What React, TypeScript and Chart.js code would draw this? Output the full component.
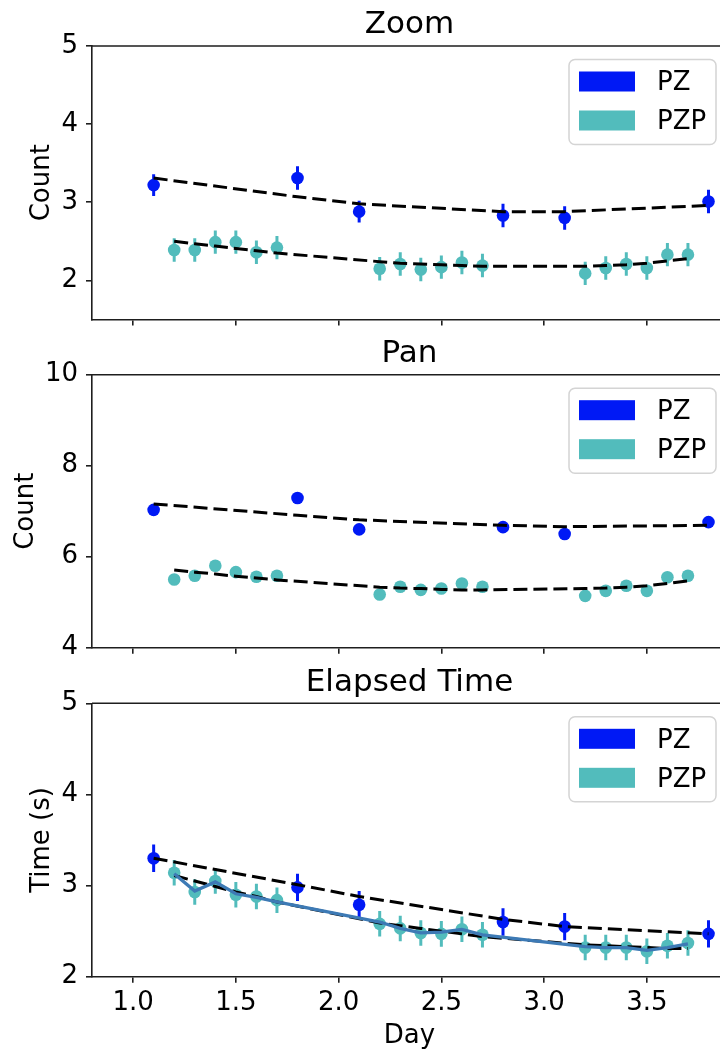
import React, { useEffect, useRef } from 'react';
import { Chart, registerables } from 'chart.js';

Chart.register(...registerables);

// ---------------- data ----------------
const SERIES_LABELS = ['PZ', 'PZP'];
const X_AXIS_LABEL = 'Day';
const X_TICKS = [1.0, 1.5, 2.0, 2.5, 3.0, 3.5];
const X_MIN = 0.8;
const X_MAX = 3.89;

const DAY_PZ = [1.1, 1.8, 2.1, 2.8, 3.1, 3.8];
const DAY_PZP = [1.2, 1.3, 1.4, 1.5, 1.6, 1.7, 2.2, 2.3, 2.4, 2.5, 2.6, 2.7, 3.2, 3.3, 3.4, 3.5, 3.6, 3.7];

// Zoom panel
const ZOOM_Y_TICKS = [2, 3, 4, 5];
const ZOOM_PZ = [3.22, 3.31, 2.88, 2.83, 2.8, 3.01];
const ZOOM_PZ_ERR = [0.14, 0.15, 0.14, 0.15, 0.15, 0.15];
const ZOOM_PZ_FIT = [3.31, 3.07, 2.98, 2.88, 2.88, 2.96];
const ZOOM_PZP = [2.39, 2.39, 2.49, 2.49, 2.36, 2.42, 2.15, 2.21, 2.14, 2.17, 2.23, 2.19, 2.09, 2.16, 2.21, 2.16, 2.33, 2.33];
const ZOOM_PZP_ERR = [0.15, 0.15, 0.15, 0.15, 0.15, 0.15, 0.15, 0.15, 0.15, 0.15, 0.15, 0.15, 0.15, 0.15, 0.15, 0.15, 0.15, 0.15];
const ZOOM_PZP_FIT = [2.5, 2.47, 2.44, 2.41, 2.38, 2.35, 2.24, 2.22, 2.21, 2.2, 2.19, 2.18, 2.18, 2.19, 2.2, 2.22, 2.25, 2.28];

// Pan panel
const PAN_Y_TICKS = [4, 6, 8, 10];
const PAN_PZ = [7.03, 7.29, 6.6, 6.65, 6.5, 6.76];
const PAN_PZ_FIT = [7.16, 6.91, 6.81, 6.69, 6.66, 6.69];
const PAN_PZP = [5.5, 5.58, 5.8, 5.66, 5.56, 5.58, 5.17, 5.34, 5.27, 5.3, 5.41, 5.34, 5.14, 5.25, 5.36, 5.25, 5.55, 5.58];
const PAN_PZP_FIT = [5.71, 5.66, 5.62, 5.57, 5.53, 5.49, 5.33, 5.31, 5.3, 5.28, 5.27, 5.27, 5.3, 5.31, 5.33, 5.36, 5.41, 5.47];

// Elapsed time panel
const TIME_Y_TICKS = [2, 3, 4, 5];
const TIME_PZ = [3.3, 2.98, 2.79, 2.6, 2.55, 2.47];
const TIME_PZ_ERR = [0.15, 0.15, 0.15, 0.15, 0.15, 0.15];
const TIME_PZ_FIT = [3.3, 3.01, 2.88, 2.63, 2.55, 2.47];
const TIME_PZP = [3.14, 2.93, 3.05, 2.9, 2.88, 2.84, 2.58, 2.53, 2.48, 2.47, 2.52, 2.46, 2.32, 2.32, 2.32, 2.28, 2.34, 2.37];
const TIME_PZP_ERR = [0.14, 0.14, 0.14, 0.14, 0.14, 0.14, 0.14, 0.14, 0.14, 0.14, 0.14, 0.14, 0.14, 0.14, 0.14, 0.14, 0.14, 0.14];
const TIME_PZP_LINE = [3.13, 2.94, 3.04, 2.91, 2.87, 2.82, 2.6, 2.53, 2.48, 2.49, 2.52, 2.46, 2.33, 2.32, 2.32, 2.29, 2.32, 2.36];
const TIME_PZP_FIT = [3.11, 3.05, 2.99, 2.93, 2.88, 2.82, 2.59, 2.56, 2.53, 2.5, 2.47, 2.44, 2.35, 2.34, 2.33, 2.32, 2.31, 2.31];

// ---------------- styles ----------------
const FONT = 'DejaVu Sans';
const PZ_COLOR = '#0019f5';
const PZP_COLOR = '#52bcbc';
const MEAN_LINE_COLOR = '#3d7ab5';
const SPINE = '#1e1e1e';

interface PanelSpec {
  title: string;
  yLabel: string;
  yMin: number;
  yMax: number;
  yTicks: number[];
  pz: number[];
  pzErr?: number[];
  pzFit: number[];
  pzp: number[];
  pzpErr?: number[];
  pzpFit: number[];
  pzpLine?: number[];
  showX: boolean;
  top: number;
  height: number;
  titlePadTop: number;
  xAxisHeight: number;
  yTitlePad: number;
}

const PANELS: PanelSpec[] = [
  {
    title: 'Zoom', yLabel: 'Count', yMin: 1.5, yMax: 5, yTicks: ZOOM_Y_TICKS,
    pz: ZOOM_PZ, pzErr: ZOOM_PZ_ERR, pzFit: ZOOM_PZ_FIT,
    pzp: ZOOM_PZP, pzpErr: ZOOM_PZP_ERR, pzpFit: ZOOM_PZP_FIT,
    showX: false, top: 0, height: 330, titlePadTop: 6.8, xAxisHeight: 10.5, yTitlePad: 26.2,
  },
  {
    title: 'Pan', yLabel: 'Count', yMin: 4, yMax: 10, yTicks: PAN_Y_TICKS,
    pz: PAN_PZ, pzFit: PAN_PZ_FIT,
    pzp: PAN_PZP, pzpFit: PAN_PZP_FIT,
    showX: false, top: 330, height: 330, titlePadTop: 5.5, xAxisHeight: 12.3, yTitlePad: 10.2,
  },
  {
    title: 'Elapsed Time', yLabel: 'Time (s)', yMin: 2, yMax: 5, yTicks: TIME_Y_TICKS,
    pz: TIME_PZ, pzErr: TIME_PZ_ERR, pzFit: TIME_PZ_FIT,
    pzp: TIME_PZP, pzpErr: TIME_PZP_ERR, pzpFit: TIME_PZP_FIT, pzpLine: TIME_PZP_LINE,
    showX: true, top: 660, height: 392, titlePadTop: 4.1, xAxisHeight: 75.3, yTitlePad: 26.2,
  },
];

const CANVAS_W = 745;
const RIGHT_PAD = 18; // plot area ends at x=727, past the visible 720px, as in the reference
const Y_AXIS_W = 92;

const pts = (xs: number[], ys: number[]) => xs.map((x, i) => ({ x, y: ys[i] }));

const errorBarPlugin = {
  id: 'errorBars',
  beforeDatasetsDraw(chart: any) {
    const { ctx, chartArea } = chart;
    const xs = chart.scales.x;
    const ys = chart.scales.y;
    ctx.save();
    ctx.beginPath();
    ctx.rect(chartArea.left, chartArea.top, chartArea.right - chartArea.left, chartArea.bottom - chartArea.top);
    ctx.clip();
    chart.data.datasets.forEach((ds: any) => {
      if (!ds.errors) return;
      ctx.strokeStyle = ds.backgroundColor;
      ctx.lineWidth = 3;
      ctx.beginPath();
      ds.data.forEach((p: any, j: number) => {
        const x = xs.getPixelForValue(p.x);
        ctx.moveTo(x, ys.getPixelForValue(p.y - ds.errors[j]));
        ctx.lineTo(x, ys.getPixelForValue(p.y + ds.errors[j]));
      });
      ctx.stroke();
    });
    ctx.restore();
  },
};

const framePlugin = {
  id: 'frame',
  afterDatasetsDraw(chart: any) {
    const { ctx, chartArea } = chart;
    ctx.save();
    ctx.strokeStyle = SPINE;
    ctx.lineWidth = 1.6;
    ctx.beginPath();
    ctx.moveTo(chartArea.left, chartArea.top);
    ctx.lineTo(chartArea.right, chartArea.top);
    ctx.lineTo(chartArea.right, chartArea.bottom);
    ctx.stroke();
    ctx.restore();
  },
};

const boxLegendPlugin = {
  id: 'boxLegend',
  afterDraw(chart: any) {
    const { ctx, chartArea } = chart;
    const items = chart.data.datasets.filter((d: any) => d.legendEntry);
    const w = 147;
    const h = 85;
    const left = chartArea.right - 11 - w;
    const top = chartArea.top + 13.5;
    ctx.save();
    ctx.beginPath();
    ctx.roundRect(left, top, w, h, 6);
    ctx.fillStyle = 'rgba(255,255,255,0.8)';
    ctx.fill();
    ctx.strokeStyle = '#d4d4d4';
    ctx.lineWidth = 1.5;
    ctx.stroke();
    items.forEach((it: any, i: number) => {
      const py = top + 12 + i * 39;
      ctx.fillStyle = it.backgroundColor;
      ctx.fillRect(left + 10, py, 56, 20);
      ctx.fillStyle = '#000';
      ctx.font = `26px "${FONT}"`;
      ctx.textBaseline = 'middle';
      ctx.textAlign = 'left';
      ctx.fillText(it.label, left + 88, py + 12);
    });
    ctx.restore();
  },
};

function Panel({ spec }: { spec: PanelSpec }) {
  const ref = useRef<HTMLCanvasElement | null>(null);
  useEffect(() => {
    if (!ref.current) return;
    const datasets: any[] = [
      {
        label: SERIES_LABELS[0], legendEntry: true, data: pts(DAY_PZ, spec.pz), errors: spec.pzErr,
        backgroundColor: PZ_COLOR, borderColor: PZ_COLOR, pointRadius: 6.3, pointBorderWidth: 0, order: 5,
      },
      {
        label: SERIES_LABELS[1], legendEntry: true, data: pts(DAY_PZP, spec.pzp), errors: spec.pzpErr,
        backgroundColor: PZP_COLOR, borderColor: PZP_COLOR, pointRadius: 6.3, pointBorderWidth: 0, order: 4,
      },
      {
        label: 'PZP fit', data: pts(DAY_PZP, spec.pzpFit), showLine: true, pointRadius: 0,
        borderColor: '#000', borderWidth: 3, borderDash: [14, 6], borderCapStyle: 'butt', order: 3,
      },
    ];
    if (spec.pzpLine) {
      datasets.push({
        label: 'PZP mean', data: pts(DAY_PZP, spec.pzpLine), showLine: true, pointRadius: 0,
        borderColor: MEAN_LINE_COLOR, borderWidth: 3.3, order: 2,
      });
    }
    datasets.push({
      label: 'PZ fit', data: pts(DAY_PZ, spec.pzFit), showLine: true, pointRadius: 0,
      borderColor: '#000', borderWidth: 3, borderDash: [14, 6], borderCapStyle: 'butt', order: 1,
    });

    const chart = new Chart(ref.current, {
      type: 'scatter',
      data: { datasets },
      plugins: [errorBarPlugin, framePlugin, boxLegendPlugin],
      options: {
        animation: false,
        responsive: false,
        maintainAspectRatio: false,
        devicePixelRatio: 1,
        layout: { padding: { left: 0, top: 0, bottom: 0, right: RIGHT_PAD } },
        plugins: {
          legend: { display: false },
          tooltip: { enabled: false },
          title: {
            display: true,
            text: spec.title,
            fullSize: false,
            color: '#000',
            font: { family: FONT, size: 31, weight: 'normal' },
            padding: { top: spec.titlePadTop, bottom: 2 },
          },
        },
        scales: {
          x: {
            type: 'linear',
            min: X_MIN,
            max: X_MAX,
            afterBuildTicks: (scale: any) => {
              scale.ticks = X_TICKS.map((v) => ({ value: v }));
            },
            afterFit: (scale: any) => {
              scale.height = spec.xAxisHeight;
              scale.paddingLeft = 0;
              scale.paddingRight = 0;
            },
            ticks: {
              display: spec.showX,
              color: '#000',
              font: { family: FONT, size: 26 },
              padding: 5.2,
              maxRotation: 0,
              autoSkip: false,
              callback: (v: any) => Number(v).toFixed(1),
            },
            title: {
              display: spec.showX,
              text: X_AXIS_LABEL,
              color: '#000',
              font: { family: FONT, size: 26 },
              padding: { top: 0, bottom: 0.4 },
            },
            grid: {
              display: true,
              drawOnChartArea: false,
              drawTicks: true,
              tickLength: 6,
              tickColor: SPINE,
              tickWidth: 1.6,
              lineWidth: 1.6,
            },
            border: { display: true, color: SPINE, width: 1.6 },
          },
          y: {
            type: 'linear',
            min: spec.yMin,
            max: spec.yMax,
            afterBuildTicks: (scale: any) => {
              scale.ticks = spec.yTicks.map((v) => ({ value: v }));
            },
            afterFit: (scale: any) => {
              scale.width = Y_AXIS_W;
              scale.paddingTop = 0;
              scale.paddingBottom = 0;
            },
            ticks: {
              color: '#000',
              font: { family: FONT, size: 26 },
              padding: 8,
              autoSkip: false,
              callback: (v: any) => String(v),
            },
            title: {
              display: true,
              text: spec.yLabel,
              color: '#000',
              font: { family: FONT, size: 26 },
              padding: { top: spec.yTitlePad, bottom: 0 },
            },
            grid: {
              display: true,
              drawOnChartArea: false,
              drawTicks: true,
              tickLength: 6,
              tickColor: SPINE,
              tickWidth: 1.6,
              lineWidth: 1.6,
            },
            border: { display: true, color: SPINE, width: 1.6 },
          },
        },
      } as any,
    });
    return () => chart.destroy();
  }, [spec]);

  return (
    <canvas
      ref={ref}
      width={CANVAS_W}
      height={spec.height}
      style={{ position: 'absolute', left: 0, top: spec.top, width: CANVAS_W, height: spec.height, display: 'block' }}
    />
  );
}

export default function App() {
  return (
    <div
      style={{
        position: 'absolute',
        left: 0,
        top: 0,
        width: 720,
        height: 1052,
        overflow: 'hidden',
        background: '#fff',
      }}
    >
      {PANELS.map((p) => (
        <Panel key={p.title} spec={p} />
      ))}
    </div>
  );
}
